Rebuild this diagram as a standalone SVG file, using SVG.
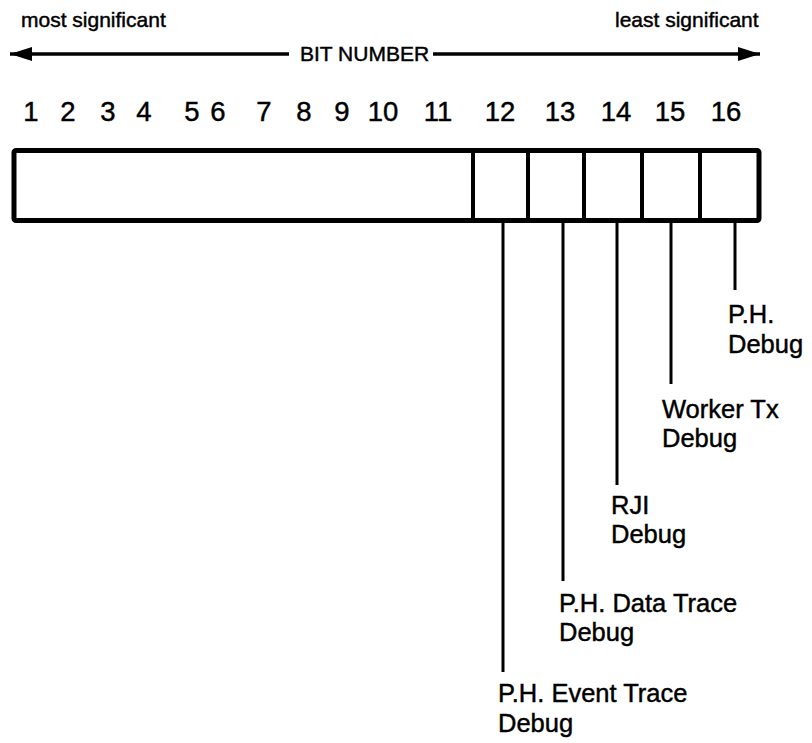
<svg xmlns="http://www.w3.org/2000/svg" width="812" height="743" viewBox="0 0 812 743">
<style>
text{font-family:"Liberation Sans",Arial,Helvetica,sans-serif;fill:#000;stroke:#000;stroke-width:0.45}
.hdr{font-size:21px}
.num{font-size:27.5px;text-anchor:middle}
.lbl{font-size:25.5px}
.ln{stroke:#000;stroke-width:3;fill:none}
.arr{stroke:#000;stroke-width:3.5;fill:none}
.box{stroke:#000;stroke-width:5;fill:#fff}
.div{stroke:#000;stroke-width:4}
</style>
<defs>
<marker id="ah" viewBox="0 0 22 14" refX="22" refY="7" markerWidth="22" markerHeight="14" markerUnits="userSpaceOnUse" orient="auto-start-reverse">
<path d="M0,0 L22,7 L0,14 Z" fill="#000"/>
</marker>
</defs>
<g id="header">
<text class="hdr" x="21" y="27">most significant</text>
<text class="hdr" x="615" y="27">least significant</text>
<text class="hdr" x="300" y="61">BIT NUMBER</text>
</g>
<g id="bit-arrow">
<line class="arr" x1="289" y1="54" x2="10" y2="54" marker-end="url(#ah)"/>
<line class="arr" x1="433" y1="54" x2="760" y2="54" marker-end="url(#ah)"/>
</g>
<g id="bit-numbers">
<text class="num" x="31" y="121">1</text>
<text class="num" x="68" y="121">2</text>
<text class="num" x="108" y="121">3</text>
<text class="num" x="144" y="121">4</text>
<text class="num" x="192" y="121">5</text>
<text class="num" x="218" y="121">6</text>
<text class="num" x="264" y="121">7</text>
<text class="num" x="304" y="121">8</text>
<text class="num" x="342" y="121">9</text>
<text class="num" x="383" y="121">10</text>
<text class="num" x="438" y="121">11</text>
<text class="num" x="500" y="121">12</text>
<text class="num" x="560" y="121">13</text>
<text class="num" x="616" y="121">14</text>
<text class="num" x="670" y="121">15</text>
<text class="num" x="726" y="121">16</text>
</g>
<g id="register">
<rect class="box" x="14" y="150.5" width="745" height="70" rx="2"/>
<line class="div" x1="473" y1="150" x2="473" y2="221"/>
<line class="div" x1="528" y1="150" x2="528" y2="221"/>
<line class="div" x1="584" y1="150" x2="584" y2="221"/>
<line class="div" x1="642" y1="150" x2="642" y2="221"/>
<line class="div" x1="700" y1="150" x2="700" y2="221"/>
</g>
<g id="connectors">
<line class="ln" x1="503" y1="223" x2="503" y2="672"/>
<line class="ln" x1="563" y1="223" x2="563" y2="581"/>
<line class="ln" x1="617" y1="223" x2="617" y2="485"/>
<line class="ln" x1="671" y1="223" x2="671" y2="384"/>
<line class="ln" x1="735" y1="223" x2="735" y2="290"/>
</g>
<g id="label-bit16">
<text class="lbl" x="728" y="323">P.H.</text>
<text class="lbl" x="728" y="353">Debug</text>
</g>
<g id="label-bit15">
<text class="lbl" x="662" y="418">Worker Tx</text>
<text class="lbl" x="662" y="447">Debug</text>
</g>
<g id="label-bit14">
<text class="lbl" x="611" y="514">RJI</text>
<text class="lbl" x="611" y="543">Debug</text>
</g>
<g id="label-bit13">
<text class="lbl" x="559" y="612">P.H. Data Trace</text>
<text class="lbl" x="559" y="641">Debug</text>
</g>
<g id="label-bit12">
<text class="lbl" x="498" y="702">P.H. Event Trace</text>
<text class="lbl" x="498" y="732">Debug</text>
</g>
</svg>
